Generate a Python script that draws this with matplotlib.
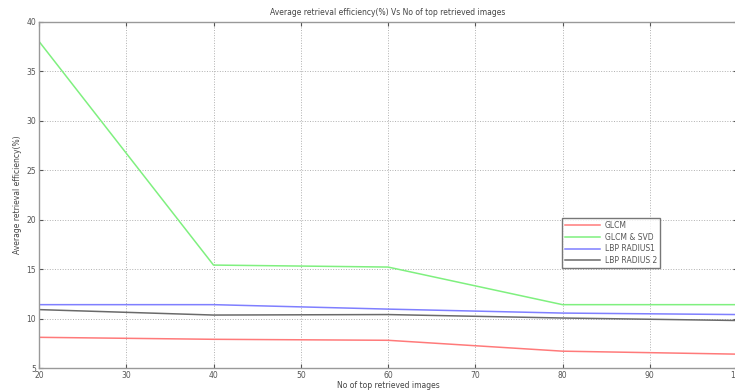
import matplotlib
matplotlib.use("Agg")
import matplotlib.pyplot as plt

x_vals = [20, 40, 60, 80, 100]
glcm = [8.1, 7.9, 7.8, 6.7, 6.4]
glcm_svd = [38.0, 15.4, 15.2, 11.4, 11.4]
lbp_r1 = [11.4, 11.4, 10.95, 10.55, 10.4]
lbp_r2 = [10.9, 10.35, 10.4, 10.05, 9.8]
series_labels = ["GLCM", "GLCM & SVD", "LBP RADIUS1", "LBP RADIUS 2"]
x_ticks = [20, 30, 40, 50, 60, 70, 80, 90, 100]
y_ticks = [5, 10, 15, 20, 25, 30, 35, 40]

fig = plt.figure(figsize=(7.35, 3.91), dpi=100)
ax = fig.add_axes([39/735, 1-368/391, (737-39)/735, (368-21.6)/391])

colors = ["#ff7a7a", "#7ff07f", "#7f7fff", "#6a6a6a"]
for ys, lab, c in zip([glcm, glcm_svd, lbp_r1, lbp_r2], series_labels, colors):
    ax.plot(x_vals, ys, color=c, lw=1.1, label=lab)

ax.set_xlim(20, 100)
ax.set_ylim(5, 40)
ax.set_xticks(x_ticks)
ax.set_yticks(y_ticks)
ax.tick_params(direction="in", labelsize=5.5, colors="#555555", length=3,
               top=True, right=True, pad=2)
ax.grid(True, linestyle=":", color="#b0b0b0", lw=0.7)
for s in ax.spines.values():
    s.set_color("#999999")
    s.set_linewidth(1.0)

ax.set_title("Average retrieval efficiency(%) Vs No of top retrieved images",
             fontsize=5.5, color="#444444", pad=5)
ax.set_xlabel("No of top retrieved images", fontsize=5.5, color="#444444", labelpad=1)
ax.set_ylabel("Average retrieval efficiency(%)", fontsize=5.5, color="#444444", labelpad=3)

leg = ax.legend(loc="upper left", bbox_to_anchor=(562/735, 1-218/391),
                bbox_transform=fig.transFigure, borderaxespad=0,
                fontsize=5.5, frameon=True,
                fancybox=False, handlelength=4.6, borderpad=0.4, labelspacing=0.35,
                handletextpad=0.6)
leg.get_frame().set_edgecolor("#555555")
leg.get_frame().set_linewidth(1.0)
for t in leg.get_texts():
    t.set_color("#555555")

fig.savefig("out.png", dpi=100)
